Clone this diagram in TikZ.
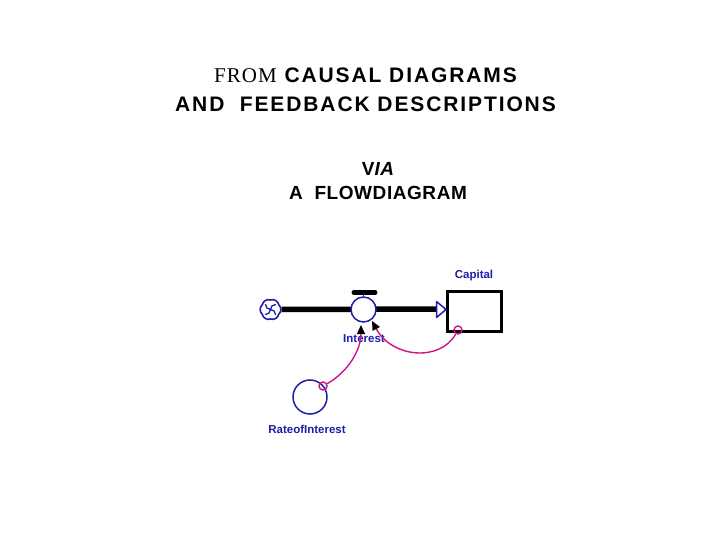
\documentclass[tikz,border=0pt]{standalone}
\usepackage{fontspec}
\setmainfont{Liberation Sans}
\newfontfamily\serifhead{Liberation Serif}[LetterSpace=5]
\newfontfamily\widesans{Liberation Sans}[LetterSpace=9]
\newfontfamily\midsans{Liberation Sans}[LetterSpace=3]
\usetikzlibrary{arrows.meta}
\definecolor{vblue}{RGB}{30,30,170}
\definecolor{vpink}{RGB}{205,20,130}
\tikzset{
  title/.style={font=\fontsize{21}{21}\selectfont\widesans\bfseries, anchor=base, inner sep=0pt},
  subtitle/.style={font=\fontsize{19}{19}\selectfont\midsans\bfseries, anchor=base, inner sep=0pt},
  lbl/.style={font=\fontsize{11.5}{11.5}\selectfont\bfseries, text=vblue, anchor=base, inner sep=0pt},
  pipe/.style={line width=5.5pt, black},
  link/.style={vpink, line width=1.4pt, -{Triangle[length=9pt,width=8pt,fill=black,color=black]}},
  tail/.style={circle, draw=vpink, line width=1.4pt, minimum size=8pt, inner sep=0pt},
  blade/.style={vblue, line width=1.3pt, line cap=round},
}
\begin{document}
\begin{tikzpicture}[x=1pt,y=-1pt]
\useasboundingbox (0,0) rectangle (720,540);
% titles
\node[title] (t1) at (365.5,83) {{\serifhead\mdseries FROM} CAUSAL DIAGRAMS};
\node[title] (t2) at (365.5,112) {AND\ \ FEEDBACK DESCRIPTIONS};
\node[subtitle] (t3) at (378,176) {V{\itshape IA}};
\node[subtitle] (t4) at (378,200) {A\ \ FLOWDIAGRAM};
% stock
\node[draw=black, line width=3pt, minimum width=54pt, minimum height=40pt, inner sep=0pt] (stock) at (474.5,311.5) {};
\node[lbl] (caplbl) at (474,278) {Capital};
% cloud
\node[circle, minimum size=22pt, inner sep=0pt] (cloud) at (270.5,309.5) {};
\begin{scope}[shift={(270.5,309.5)}]
\draw[vblue, line width=1.6pt, line join=round]
  (90:9.5) to[bend right=50] (30:9.5) to[bend right=50] (-30:9.5)
  to[bend right=50] (-90:9.5) to[bend right=50] (-150:9.5)
  to[bend right=50] (150:9.5) to[bend right=50] cycle;
\foreach \a in {45,135,225,315}
  \draw[blade] (0,0) to[bend left=45] (\a:7);
\end{scope}
% pipe
\coordinate (pipeend) at (437,309);
\draw[pipe] (cloud.east) -- (pipeend);
\draw[vblue, line width=1.5pt, fill=white, line join=round] (436.5,301.5) -- (446,309.5) -- (436.5,317.5) -- cycle;
% valve
\node[circle, draw=vblue, line width=1.5pt, minimum size=25pt, inner sep=0pt, fill=white] (valve) at (363.5,309.5) {};
\draw[black, line width=5pt, line cap=round] (354,292.5) -- (375,292.5);
\draw[vblue, line width=1.5pt] (363.5,295) -- (valve.north);
\node[lbl] (intlbl) at (364,342) {Interest};
% aux
\node[circle, draw=vblue, line width=1.5pt, minimum size=34pt, inner sep=0pt] (rate) at (310,397) {};
\node[lbl] (ratelbl) at (307,433) {RateofInterest};
% link tails
\node[tail] (t-cap) at (458,330) {};
\node[tail] (t-rate) at (323,386) {};
% links
\coordinate (h1) at (372,321);
\coordinate (h2) at (361,325);
\draw[link] (t-cap) .. controls (440,362) and (392,358) .. (h1);
\draw[link] (t-rate) .. controls (348,372) and (361,350) .. (h2);
\end{tikzpicture}
\end{document}
